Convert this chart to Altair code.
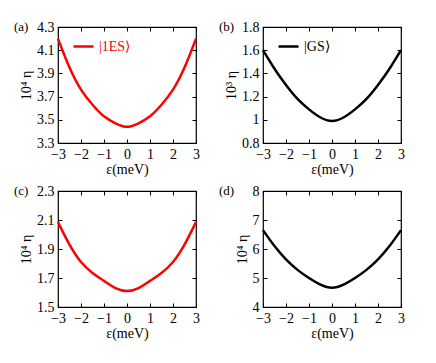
import altair as alt
import pandas as pd

# ---- data ----
eps = [-3, -2.5, -2, -1.5, -1, -0.5, 0, 0.5, 1, 1.5, 2, 2.5, 3]
eta_a = [4.20, 3.95, 3.76, 3.63, 3.53, 3.47, 3.44, 3.47, 3.53, 3.63, 3.76, 3.95, 4.20]
eta_b = [1.60, 1.44, 1.30, 1.18, 1.09, 1.02, 0.99, 1.02, 1.09, 1.18, 1.30, 1.44, 1.60]
eta_c = [2.085, 1.93, 1.81, 1.735, 1.68, 1.63, 1.61, 1.63, 1.68, 1.735, 1.81, 1.93, 2.085]
eta_d = [6.65, 6.10, 5.64, 5.28, 5.00, 4.77, 4.66, 4.77, 5.00, 5.28, 5.64, 6.10, 6.65]

x_ticks = [-3, -2, -1, 0, 1, 2, 3]
y_ticks_a = [3.3, 3.5, 3.7, 3.9, 4.1, 4.3]
y_ticks_b = [0.8, 1.0, 1.2, 1.4, 1.6, 1.8]
y_ticks_c = [1.5, 1.7, 1.9, 2.1, 2.3]
y_ticks_d = [4, 5, 6, 7, 8]

FONT = "Liberation Serif"
W, H = 138, 116
TICK = {"expr": "-4"}


def panel(vals, color, ydom, yticks, yfmt, ytitle, tag, legend_label=None):
    df = pd.DataFrame({"eps": eps, "eta": vals, "series": legend_label or ""})
    xs = alt.Scale(domain=[-3, 3], nice=False)
    ys = alt.Scale(domain=ydom, nice=False, zero=False)
    common = dict(tickSize=TICK, tickColor="black", tickWidth=1, domain=False,
                  grid=False, labelFont=FONT, labelFontSize=14, labelColor="black",
                  labelFlush=False, labelOverlap=False, titleFont=FONT,
                  titleFontSize=14, titleFontWeight="normal", titleColor="black")
    if legend_label:
        col = alt.Color("series:N",
                        scale=alt.Scale(domain=[legend_label], range=[color]),
                        legend=alt.Legend(orient="none", legendX=14, legendY=8,
                                          title=None, symbolType="stroke",
                                          symbolStrokeWidth=2.5, symbolSize=400,
                                          labelFont=FONT, labelFontSize=14,
                                          labelColor=color, padding=0, labelOffset=4))
    else:
        col = alt.value(color)
    line = alt.Chart(df).mark_line(strokeWidth=2.5, interpolate="natural").encode(
        x=alt.X("eps:Q", scale=xs,
                axis=alt.Axis(values=x_ticks, title="ε(meV)", labelPadding=8,
                              titlePadding=1, **common)),
        y=alt.Y("eta:Q", scale=ys,
                axis=alt.Axis(values=yticks, format=yfmt, title=ytitle,
                              labelPadding=8, titlePadding=3, **common)),
        color=col,
    )
    mirror = alt.Chart(df).mark_line(opacity=0).encode(
        x=alt.X("eps:Q", scale=xs,
                axis=alt.Axis(orient="top", values=x_ticks, labels=False,
                              title=None, **common)),
        y=alt.Y("eta:Q", scale=ys,
                axis=alt.Axis(orient="right", values=yticks, labels=False,
                              title=None, **common)),
    )
    label = alt.Chart(pd.DataFrame({"t": [tag]})).mark_text(
        font=FONT, fontSize=13, align="left", baseline="middle", color="black"
    ).encode(x=alt.value(-44), y=alt.value(0), text="t:N")
    return alt.layer(line, mirror, label).resolve_axis(
        x="independent", y="independent").properties(width=W, height=H)


a = panel(eta_a, "#ff0000", [3.3, 4.3], y_ticks_a, ".1f", "10⁴ η", "(a)", "|1ES⟩")
b = panel(eta_b, "#000000", [0.8, 1.8], y_ticks_b, ".1~f", "10³ η", "(b)", "|GS⟩")
c = panel(eta_c, "#ff0000", [1.5, 2.3], y_ticks_c, ".1f", "10⁴ η", "(c)")
d = panel(eta_d, "#000000", [4, 8], y_ticks_d, "d", "10⁴ η", "(d)")

top = alt.hconcat(a, b, spacing=16).resolve_scale(color="independent")
bottom = alt.hconcat(c, d, spacing=16)
chart = alt.vconcat(top, bottom, spacing=6).resolve_scale(
    color="independent").properties(
    padding={"left": 5, "top": 11, "right": 5, "bottom": 5}
).configure(
    font=FONT, background="white"
).configure_view(
    stroke="black", strokeWidth=1.2
).configure_axis(
    labelFont=FONT, titleFont=FONT
).configure_legend(
    labelFont=FONT
).configure_text(font=FONT)

chart.save("out.html", embed_options={"renderer": "svg", "actions": False})
